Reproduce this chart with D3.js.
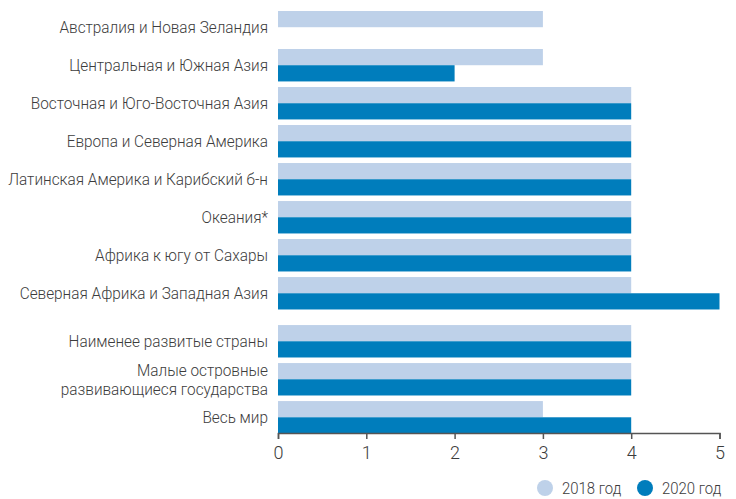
<!DOCTYPE html>
<html>
<head>
<meta charset="utf-8">
<script src="https://cdn.jsdelivr.net/npm/d3@7"></script>
<style>
  html, body { margin: 0; padding: 0; background: #fff; }
  svg { display: block; }
  text { font-family: Roboto, "Noto Sans", "DejaVu Sans Condensed", sans-serif; font-weight: 300; fill: #3c3c3c; }
</style>
</head>
<body>
<svg id="chart" width="736" height="499"></svg>
<script>
// Regions (first eight) and country groups (last three)
const categories = [
  "Австралия и Новая Зеландия",
  "Центральная и Южная Азия",
  "Восточная и Юго-Восточная Азия",
  "Европа и Северная Америка",
  "Латинская Америка и Карибский б-н",
  "Океания*",
  "Африка к югу от Сахары",
  "Северная Африка и Западная Азия",
  "Наименее развитые страны",
  "Малые островные\nразвивающиеся государства",
  "Весь мир"
];
const values2018 = [3, 3, 4, 4, 4, 4, 4, 4, 4, 4, 3];
const values2020 = [null, 2, 4, 4, 4, 4, 4, 5, 4, 4, 4];
const seriesNames = ["2018 год", "2020 год"];
const xTicks = [0, 1, 2, 3, 4, 5];

const colors = ["#bed1e9", "#007dbc"];
const regionCount = 8;   // groups after this index are set apart by a small gap
const groupGap = 10;

const svg = d3.select("#chart");
const plotLeft = 278, plotRight = 719.5;
const plotTop = 11, rowStep = 37.5;
const labelFont = 17;
const labelRight = 268, labelMaxWidth = 260;

const x = d3.scaleLinear().domain([0, 5]).range([plotLeft, plotRight]);
const y = d3.scaleBand()
  .domain(d3.range(categories.length))
  .range([plotTop, plotTop + rowStep * categories.length])
  .paddingInner(5.5 / 37.5)
  .paddingOuter(0)
  .align(0);
// shift the country-group rows down by the gap
const yPos = i => y(i) + (i >= regionCount ? groupGap : 0);
const sub = d3.scaleBand().domain([0, 1]).range([0, y.bandwidth()]);

// condensed look: squeeze labels horizontally so the longest fits the margin
function measure(str, size) {
  const t = svg.append("text").attr("font-size", size).text(str);
  const w = t.node().getComputedTextLength();
  t.remove();
  return w;
}
const longest = d3.max(categories.flatMap(c => c.split("\n")), s => measure(s, labelFont));
const squeeze = Math.min(1, labelMaxWidth / longest);

const rows = categories.map((c, i) => ({ i, c, v: [values2018[i], values2020[i]] }));

const g = svg.append("g");
const row = g.selectAll("g.row").data(rows).join("g")
  .attr("class", "row")
  .attr("transform", d => `translate(0,${yPos(d.i)})`);

row.selectAll("rect")
  .data(d => d.v.map((v, k) => ({ v, k })).filter(e => e.v != null))
  .join("rect")
  .attr("x", x(0))
  .attr("y", e => sub(e.k))
  .attr("width", e => x(e.v) - x(0))
  .attr("height", sub.bandwidth())
  .attr("fill", e => colors[e.k]);

// category labels, right-aligned against the axis
const lineH = 19;
row.each(function (d) {
  const lines = d.c.split("\n");
  const t = d3.select(this).append("g")
    .attr("transform", `translate(${labelRight},${y.bandwidth() / 2 - (lines.length - 1) * lineH / 2}) scale(${squeeze},1)`)
    .append("text")
    .attr("text-anchor", "end")
    .attr("font-size", labelFont);
  lines.forEach((ln, k) => {
    t.append("tspan").attr("x", 0).attr("dy", k === 0 ? "0.35em" : lineH).text(ln);
  });
});

// x axis
const axisY = 433;
const axis = d3.axisBottom(x).tickValues(xTicks).tickFormat(d3.format("d")).tickSize(6).tickPadding(7);
const ax = svg.append("g").attr("transform", `translate(0,${axisY})`).call(axis);
ax.select(".domain").attr("stroke", "#555").attr("stroke-width", 1.5);
ax.selectAll(".tick line").attr("stroke", "#555").attr("stroke-width", 1.5);
ax.selectAll(".tick text").attr("font-size", 18).attr("fill", "#3c3c3c")
  .style("font-family", "Roboto, \"Noto Sans\", sans-serif").style("font-weight", 300);

// legend
const legend = svg.append("g").attr("transform", "translate(0,488)");
const legendX = [545, 645];
seriesNames.forEach((s, k) => {
  legend.append("circle").attr("cx", legendX[k]).attr("cy", 0).attr("r", 8).attr("fill", colors[k]);
  legend.append("g").attr("transform", `translate(${legendX[k] + 17},0) scale(${squeeze},1)`)
    .append("text").attr("x", 0).attr("y", 0).attr("dy", "0.35em")
    .attr("font-size", 16.5).text(s);
});
</script>
</body>
</html>
